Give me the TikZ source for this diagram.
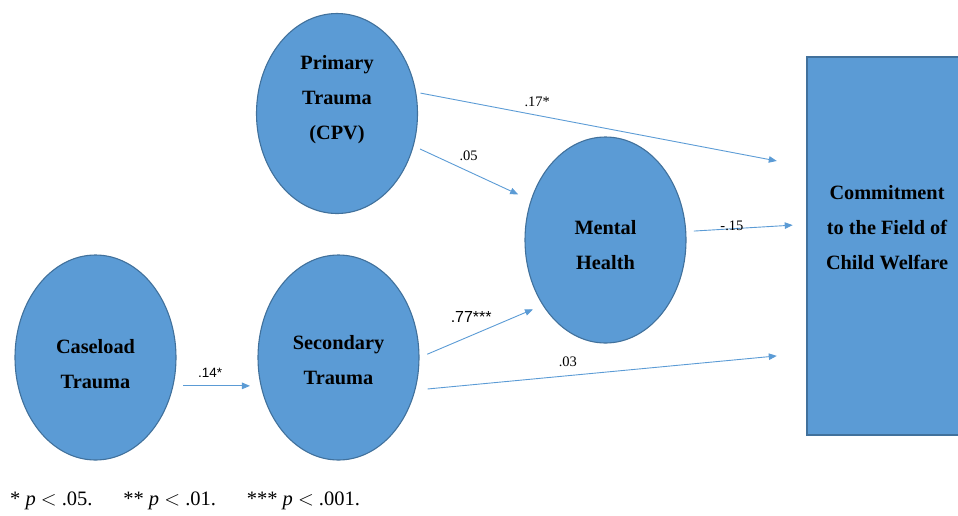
\documentclass[tikz,border=0pt]{standalone}
\usepackage{fontspec}
\setmainfont{Liberation Serif}
\newfontfamily\arialfont{Liberation Sans}
\usetikzlibrary{shapes.geometric,arrows.meta}

\definecolor{boxblue}{HTML}{5B9BD5}
\definecolor{rimblue}{HTML}{41719C}
\definecolor{pathblue}{HTML}{5B9BD5}

\tikzset{
  latent/.style={ellipse,draw=rimblue,line width=1.1pt,fill=boxblue,
    minimum width=161pt,minimum height=205pt,inner sep=0pt,align=center,
    font=\fontsize{20.3}{35}\selectfont\bfseries},
  outcome/.style={rectangle,draw=rimblue,line width=1.1pt,fill=boxblue,
    minimum width=160pt,minimum height=378pt,inner sep=0pt,align=center,
    font=\fontsize{20.3}{35}\selectfont\bfseries},
  link/.style={draw=pathblue,line width=0.9pt,-{Triangle[length=8pt,width=6.5pt]}},
  coef/.style={inner sep=0pt,font=\fontsize{14.5}{16}\selectfont},
  coefsans/.style={inner sep=0pt,font=\arialfont\fontsize{13.5}{16}\selectfont}
}

\begin{document}
\begin{tikzpicture}[x=1pt,y=-1pt]
\useasboundingbox (0,0) rectangle (958,515);
% outcome block, cut by the right margin
\node[outcome] (commit) at (887,246)
  {Commitment\\to the Field of\\Child Welfare\rule[-38pt]{0pt}{38pt}};
% latent variables
\node[latent,minimum height=200pt] (primary) at (337,113.5)
  {Primary\\Trauma\\(CPV)\rule[-32pt]{0pt}{32pt}};
\node[latent,minimum height=206pt] (mental) at (605.5,240)
  {\rule{0pt}{25pt}Mental\\Health};
\node[latent] (caseload) at (95.5,357.5) {\rule{0pt}{28pt}Caseload\\Trauma};
\node[latent] (secondary) at (338.5,357.5) {\rule{0pt}{19pt}Secondary\\Trauma};
% paths with coefficients
\draw[link,shorten <=4.4pt,shorten >=30.2pt] (primary.15) --
  ([yshift=79.4pt]commit.west) node[coef,pos=.31,yshift=13.6pt] {.17*};
\draw[link,shorten <=7pt,shorten >=13.8pt] (primary.-23.4) --
  (mental.152.8) node[coef,pos=.47,yshift=15.4pt] {.05};
\draw[link,shorten <=7.7pt,shorten >=13.7pt] (mental.6.8) --
  ([yshift=21.7pt]commit.west) node[coef,pos=.38,yshift=3.1pt] {-.15};
\draw[link,shorten <=8.4pt,shorten >=10.4pt] (secondary.-0.5) --
  (mental.226.8) node[coefsans,font=\arialfont\fontsize{16}{18}\selectfont,
  pos=.42,yshift=18.4pt] {.77***};
\draw[link,shorten <=12.3pt,shorten >=29.8pt] (secondary.-23.9) --
  ([yshift=-107.1pt]commit.west) node[coef,pos=.39,yshift=13.7pt] {.03};
\draw[link,shorten <=10pt,shorten >=10.6pt] (caseload.-20.7) --
  (secondary.200.7) node[coefsans,pos=.42,yshift=13.4pt] {.14*};
% significance note
\node[anchor=base west,inner sep=0pt,font=\fontsize{20.5}{24}\selectfont] (note)
  at (10,505) {* \textit{p} $<$ .05.\hspace{1.5em}** \textit{p} $<$ .01.\hspace{1.5em}*** \textit{p} $<$ .001.};
\end{tikzpicture}
\end{document}
